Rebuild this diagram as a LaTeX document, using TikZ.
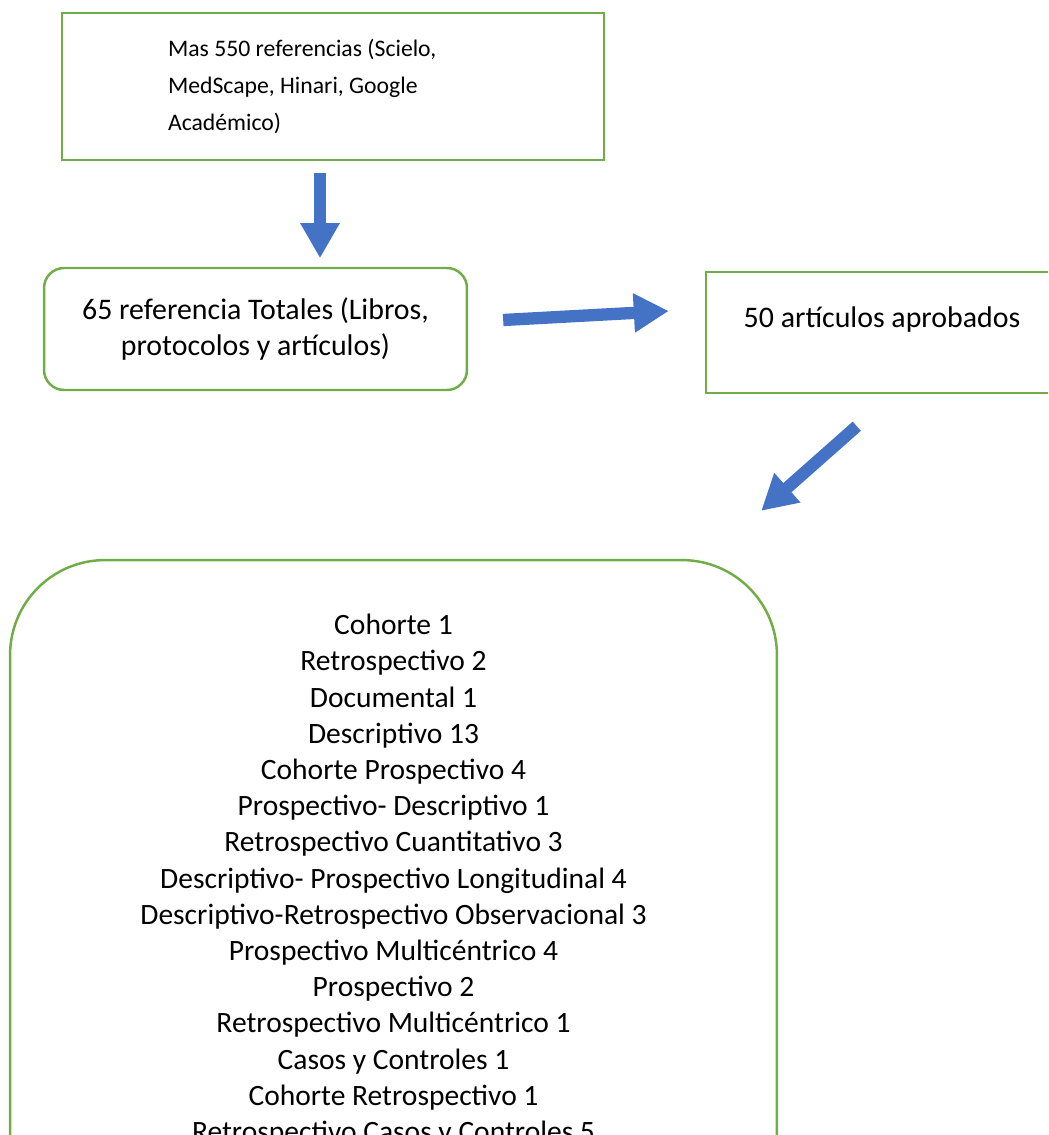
\documentclass[tikz,border=0pt]{standalone}
\usepackage{fontspec}
\setmainfont{Carlito}
\usetikzlibrary{arrows.meta,positioning}
\definecolor{verde}{HTML}{70AD47}
\definecolor{azul}{HTML}{4472C4}

\begin{document}
\begin{tikzpicture}[x=0.02cm, y=-0.02cm,
		caja/.style={draw=verde, line width=1.4pt, inner sep=0pt},
		flecha/.style={azul, line width=7pt, -{Triangle[length=0.7cm, width=0.74cm]}}]
			\useasboundingbox (0,0) rectangle (1048,1135);
			\clip (0,0) rectangle (1048,1135);
			% cajas
			\node[caja, minimum width=10.84cm, minimum height=2.94cm, text width=6.6cm, align=flush left,
				font=\fontsize{13.5}{21.3}\selectfont] (fuentes) at (333,86.5)
				{Mas 550 referencias (Scielo,\\ MedScape, Hinari, Google\\ Académico)};
			\node[caja, rounded corners=0.4cm, minimum width=8.46cm, minimum height=2.44cm, align=center,
				font=\fontsize{17}{21}\selectfont] (totales) at (255.5,329)
				{65 referencia Totales (Libros,\\ protocolos y artículos)};
			\node[caja, minimum width=7.04cm, minimum height=2.42cm] (aprob) at (882,332.5) {};
			\node[font=\fontsize{17}{21}\selectfont] (aprobt) at (882,320) {50 artículos aprobados};
			\node[caja, rounded corners=1.9cm, minimum width=15.34cm, minimum height=14.8cm] (tipos) at (393.5,930) {};
			\node[anchor=north, align=center, font=\fontsize{16.8}{20.6}\selectfont, inner sep=0pt] (lista)
				at ([yshift=-1.1cm]tipos.north)
				{Cohorte 1\\ Retrospectivo 2\\ Documental 1\\ Descriptivo 13\\ Cohorte Prospectivo 4\\
				Prospectivo- Descriptivo 1\\ Retrospectivo Cuantitativo 3\\
				Descriptivo- Prospectivo Longitudinal 4\\ Descriptivo-Retrospectivo Observacional 3\\
				Prospectivo Multicéntrico 4\\ Prospectivo 2\\ Retrospectivo Multicéntrico 1\\
				Casos y Controles 1\\ Cohorte Retrospectivo 1\\ Retrospectivo Casos y Controles 5};
			% flechas
			\draw[flecha] ([xshift=-0.26cm, yshift=-0.24cm]fuentes.south) -- ++(0,85);
			\draw[flecha] ([xshift=0.7cm, yshift=0.18cm]totales.east) -- ([xshift=-0.72cm, yshift=0.43cm]aprob.west);
			\draw[flecha] ([xshift=3.04cm, yshift=-0.64cm]aprob.south west) -- ([xshift=-0.34cm, yshift=0.96cm]tipos.north east);
		\end{tikzpicture}
\end{document}
